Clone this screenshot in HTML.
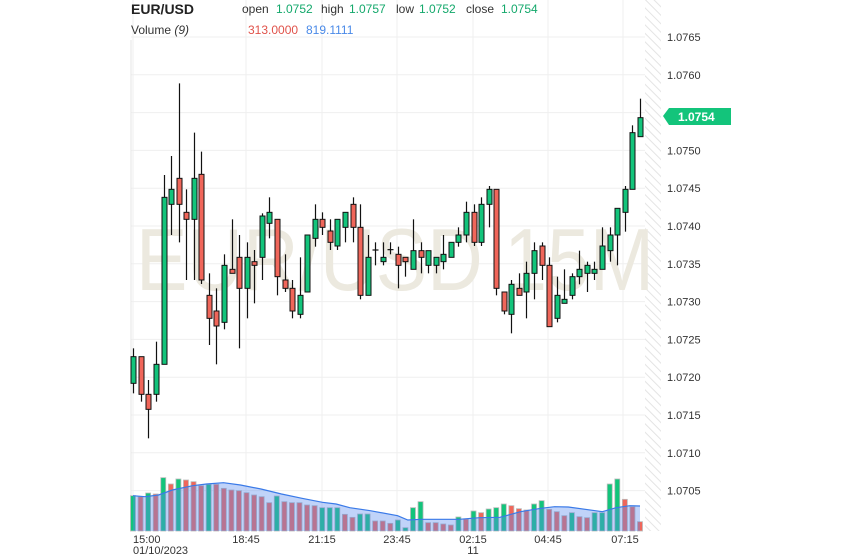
<!DOCTYPE html><html><head><meta charset="utf-8"><style>
body{margin:0;background:#fff;font-family:"Liberation Sans",sans-serif;}
svg{display:block}
</style></head><body>
<svg id="s" width="844" height="558" xmlns="http://www.w3.org/2000/svg">
<defs><pattern id="h" width="6" height="6" patternUnits="userSpaceOnUse" patternTransform="rotate(-45)"><rect width="6" height="6" fill="#fff"/><line x1="0" y1="0" x2="0" y2="6" stroke="#e4e4e4" stroke-width="2"/></pattern></defs>
<g id="grid"></g>
<rect x="645" y="0" width="16" height="531" fill="url(#h)"/>
<text x="136" y="290" font-size="88" fill="#ece9df" textLength="518" lengthAdjust="spacingAndGlyphs" font-family="Liberation Sans">EUR/USD 15M</text>
<g id="vol"></g>
<g id="c"></g>
<g id="ax" font-size="11" fill="#333"></g>
<text x="131" y="14" font-size="14" font-weight="bold" fill="#222">EUR/USD</text>
<g font-size="12" fill="#333">
<text x="242" y="13">open</text>
<text x="276" y="13" fill="#13a86b">1.0752</text>
<text x="321" y="13">high</text><text x="349" y="13" fill="#13a86b">1.0757</text>
<text x="396" y="13">low</text><text x="419" y="13" fill="#13a86b">1.0752</text>
<text x="466" y="13">close</text><text x="501" y="13" fill="#13a86b">1.0754</text>
<text x="131" y="34">Volume <tspan font-style="italic">(9)</tspan></text>
<text x="248" y="34" fill="#e0524a">313.0000</text>
<text x="306" y="34" fill="#4a8ae8">819.1111</text>
</g>
<path d="M663 116 L669 108 L731 108 L731 125 L669 125 Z" fill="#13c47b"/>
<text x="678" y="121" font-size="12" font-weight="bold" fill="#fff">1.0754</text>
</svg>
<script>
const NS="http://www.w3.org/2000/svg";
function el(p,t,a,txt){const e=document.createElementNS(NS,t);for(const k in a)e.setAttribute(k,a[k]);if(txt)e.textContent=txt;document.getElementById(p).appendChild(e);return e;}
const prices=["1.0765","1.0760","1.0755","1.0750","1.0745","1.0740","1.0735","1.0730","1.0725","1.0720","1.0715","1.0710","1.0705"];
prices.forEach((p,i)=>{const y=37+i*37.8;el("grid","line",{x1:131,x2:661,y1:y,y2:y,stroke:"#efefef"});if(p!=="1.0755")el("ax","text",{x:667,y:y+4},p);});
[133,246,322,397,473,548,623].forEach(x=>el("grid","line",{x1:x,x2:x,y1:0,y2:531,stroke:"#efefef"}));
el("grid","line",{x1:131,x2:131,y1:40,y2:531,stroke:"#e6e6e6"});
[["15:00",133],["18:45",246],["21:15",322],["23:45",397],["02:15",473],["04:45",548],["07:15",625]].forEach(([t,x])=>el("ax","text",{x:x,y:543,"text-anchor":x==133?"start":"middle"},t));
el("ax","text",{x:133,y:554},"01/10/2023");el("ax","text",{x:473,y:554,"text-anchor":"middle"},"11");
const C=[[805,830,910,940,'g'],[830,830,943,965,'r'],[900,943,988,1075,'r'],[785,853,943,965,'g'],[285,352,853,853,'g'],[228,328,373,465,'g'],[10,295,373,487,'r'],[328,397,418,600,'r'],[158,295,418,600,'g'],[215,283,600,612,'r'],[580,646,715,795,'r'],[625,693,738,853,'r'],[523,556,727,748,'g'],[418,568,580,580,'r'],[465,532,625,805,'r'],[487,532,625,715,'g'],[510,545,556,670,'r'],[400,408,532,600,'g'],[352,397,430,475,'g'],[418,418,590,646,'r'],[523,600,625,636,'r'],[600,625,693,715,'r'],[532,646,703,715,'g'],[465,465,636,636,'g'],[373,418,475,500,'g'],[397,418,442,465,'r'],[418,453,487,510,'r'],[418,418,498,510,'g'],[397,397,442,487,'g'],[352,373,442,487,'r'],[373,442,646,658,'r'],[465,532,646,646,'g'],[487,510,512,556,'d'],[487,532,545,556,'g'],[487,509,511,523,'d'],
[500,523,556,625,'r'],[532,532,545,590,'r'],[418,512,568,568,'g'],[487,512,532,580,'r'],[512,512,556,580,'g'],[532,532,556,580,'g'],[465,523,545,568,'g'],[487,487,532,532,'g'],[442,465,487,500,'g'],[365,397,465,487,'g'],[373,397,487,498,'r'],[352,373,487,498,'g'],[318,328,373,442,'g'],[328,328,625,646,'r'],[636,636,693,703,'r'],[600,613,703,760,'g'],[580,625,646,646,'r'],[545,580,636,715,'g'],[487,512,580,658,'g'],[487,498,556,600,'r'],[532,556,740,740,'r'],[590,646,715,727,'g'],[568,658,670,670,'g'],[580,590,646,658,'g'],[512,568,590,613,'g'],[545,556,580,636,'g'],[545,568,580,600,'g'],[442,498,568,568,'g'],[442,465,512,545,'g'],[385,385,465,556,'g'],[318,328,397,455,'g'],[136,158,328,328,'g'],[56,113,170,170,'g']];
const Y=z=>80+z/3;
C.forEach((c,i)=>{const x=Math.round(133.3+i*7.56)+0.5;
el("c","line",{x1:x,x2:x,y1:Y(c[0]),y2:Y(c[3]),stroke:"#111","stroke-width":1.2});
const col=c[4]=='g'?'#13c47b':c[4]=='r'?'#f0665a':'#111';
if(c[4]=='d')el("c","line",{x1:x-3,x2:x+3,y1:Y(c[1]),y2:Y(c[1]),stroke:"#111","stroke-width":1.2});
else el("c","rect",{x:x-2.5,y:Y(c[1]),width:5,height:Math.max(2,Y(c[2])-Y(c[1])),fill:col,stroke:"#111","stroke-width":1});});
const V=[[92,'g'],[95,'r'],[84,'g'],[87,'r'],[38,'g'],[57,'r'],[42,'g'],[45,'r'],[50,'r'],[62,'r'],[58,'g'],[58,'r'],[70,'r'],[75,'r'],[77,'r'],[83,'r'],[90,'r'],[95,'r'],[113,'r'],[93,'g'],[110,'r'],[113,'r'],[113,'r'],[120,'r'],[122,'r'],[128,'g'],[128,'g'],[128,'g'],[148,'r'],[157,'r'],[147,'g'],[147,'g'],[168,'r'],[168,'r'],[175,'r'],[165,'g'],[188,'g'],[128,'g'],[110,'g'],[173,'r'],[173,'r'],[177,'r'],[180,'r'],[156,'g'],[162,'r'],[138,'g'],[143,'r'],[132,'g'],[128,'g'],[117,'g'],[122,'r'],[131,'r'],[135,'r'],[117,'g'],[107,'g'],[133,'r'],[140,'r'],[152,'r'],[143,'g'],[155,'r'],[158,'r'],[143,'g'],[143,'g'],[57,'g'],[42,'g'],[103,'r'],[125,'r'],[170,'r']];
const VY=z=>465+z/3;
V.forEach((v,i)=>{const x=133+i*(507/67);el("vol","rect",{x:x-2.5,y:VY(v[0]),width:5,height:531-VY(v[0]),fill:v[1]=='g'?'#13c47b':'#f0665a',stroke:"#bbb","stroke-width":0.8});});
const M=[[25,92],[60,95],[100,90],[140,75],[200,62],[240,57],[290,53],[340,60],[400,72],[460,87],[520,100],[580,112],[620,117],[660,128],[720,137],[800,152],[830,165],[870,163],[980,163],[1040,158],[1100,157],[1160,140],[1220,130],[1260,125],[1300,126],[1400,140],[1440,128],[1480,122],[1510,123]];
const pts=M.map(p=>[125+p[0]/3,VY(p[1])]);
const sx=x=>133+(x-pts[0][0])*(640-133)/(pts[pts.length-1][0]-pts[0][0]);
let d="M"+pts.map(p=>sx(p[0]).toFixed(1)+" "+p[1].toFixed(1)).join(" L");
el("vol","path",{d:d+" L640 531 L133 531 Z",fill:"rgba(90,140,240,0.38)"});
el("vol","path",{d:d,fill:"none",stroke:"#3a7ae8","stroke-width":1.2});
</script>
</body></html>
